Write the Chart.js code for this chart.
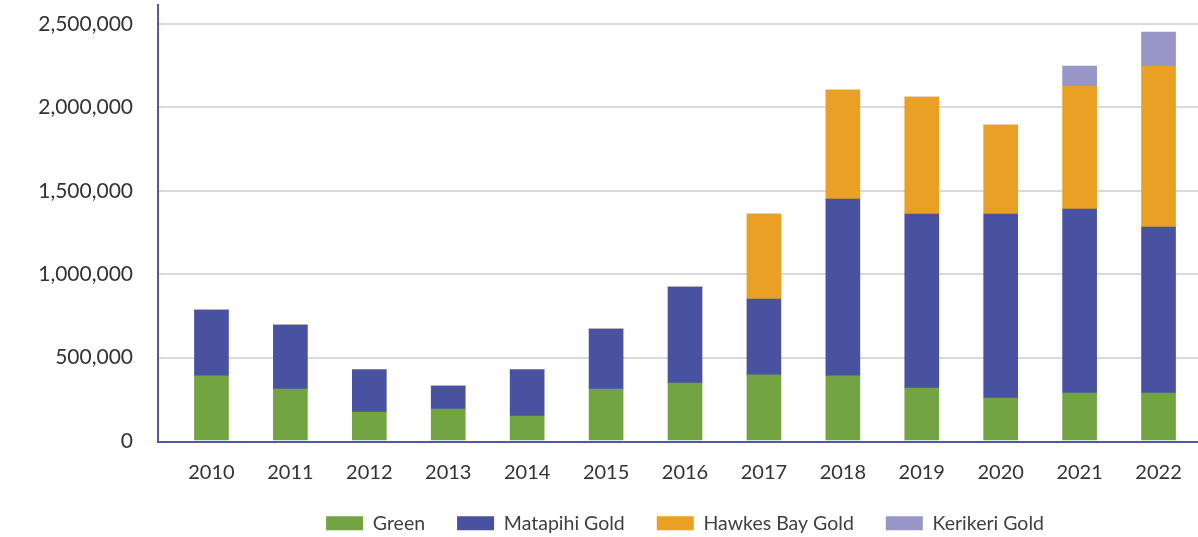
<!DOCTYPE html>
<html><head><meta charset="utf-8">
<script src="https://cdn.jsdelivr.net/npm/chart.js@4.4.1/dist/chart.umd.min.js"></script>
<style>html,body{margin:0;padding:0;background:#fff;} #wrap{width:1198px;height:537px;position:relative;}</style>
</head><body><div id="wrap"><canvas id="c"></canvas></div>
<script>
const years = ['2010','2011','2012','2013','2014','2015','2016','2017','2018','2019','2020','2021','2022'];
const green     = [390000, 312000, 174000, 192000, 150000, 312000, 348000, 396000, 390000, 318000, 258000, 288000, 288000];
const matapihi  = [395000, 383000, 252000, 138000, 276000, 359000, 575000, 455000, 1061000, 1043000, 1103000, 1103000, 995000];
const hawkesBay = [0, 0, 0, 0, 0, 0, 0, 510000, 653000, 701000, 533000, 737000, 965000];
const kerikeri  = [0, 0, 0, 0, 0, 0, 0, 0, 0, 0, 0, 120000, 204000];
const seriesNames = ['Green', 'Matapihi Gold', 'Hawkes Bay Gold', 'Kerikeri Gold'];
const yTickValues = [0, 500000, 1000000, 1500000, 2000000, 2500000];

const AXIS_X = 158;
const axisPlugin = {
  id: 'axisLines',
  beforeDatasetsDraw(chart) {
    const {ctx, chartArea, scales: {y}} = chart;
    ctx.save();
    ctx.strokeStyle = '#dadada';
    ctx.lineWidth = 2;
    y.ticks.forEach(t => {
      if (t.value === 0) return;
      const py = Math.round(y.getPixelForValue(t.value));
      ctx.beginPath(); ctx.moveTo(AXIS_X, py); ctx.lineTo(chartArea.left, py); ctx.stroke();
    });
    ctx.restore();
  },
  afterDatasetsDraw(chart) {
    const {ctx, chartArea} = chart;
    ctx.save();
    ctx.strokeStyle = '#5159ab';
    ctx.lineWidth = 2;
    ctx.beginPath();
    ctx.moveTo(AXIS_X, chartArea.top);
    ctx.lineTo(AXIS_X, chartArea.bottom + 1);
    ctx.lineTo(chartArea.right, chartArea.bottom + 1);
    ctx.stroke();
    ctx.restore();
  }
};

new Chart(document.getElementById('c'), {
  type: 'bar',
  data: {
    labels: years,
    datasets: [
      {label: seriesNames[0], data: green,     backgroundColor: '#72a442'},
      {label: seriesNames[1], data: matapihi,  backgroundColor: '#4951a1'},
      {label: seriesNames[2], data: hawkesBay, backgroundColor: '#e9a024'},
      {label: seriesNames[3], data: kerikeri,  backgroundColor: '#9895c7'}
    ]
  },
  options: {
    responsive: true,
    maintainAspectRatio: false,
    animation: false,
    layout: {padding: {top: 4, left: 0, right: 0, bottom: -6}},
    datasets: {bar: {barThickness: 34, borderWidth: 0}},
    plugins: {
      tooltip: {enabled: false},
      legend: {
        position: 'bottom',
        fullSize: false,
        labels: {
          boxWidth: 37, boxHeight: 14, padding: 32,
          color: '#404040',
          font: {family: 'Lato', size: 19.5}
        }
      }
    },
    scales: {
      x: {
        stacked: true,
        grid: {display: false, drawTicks: false},
        border: {display: false},
        ticks: {color: '#333', font: {family: 'Lato', size: 20}, padding: 20, maxRotation: 0, autoSkip: false},
        afterFit(s) { s.height = 40.5; s.paddingLeft = 0; s.paddingRight = 0; }
      },
      y: {
        stacked: true,
        min: 0, max: 2620000,
        grid: {color: c => (c.tick && c.tick.value === 0) ? 'rgba(0,0,0,0)' : '#dadada', lineWidth: 2, drawTicks: false},
        border: {display: false},
        afterBuildTicks(s) { s.ticks = yTickValues.map(v => ({value: v})); },
        ticks: {
          includeBounds: false,
          color: '#333', font: {family: 'Lato', size: 21}, padding: 39,
          callback: v => v.toLocaleString('en-US')
        },
        afterFit(s) { s.width = 172; s.paddingTop = 0; s.paddingBottom = 0; }
      }
    }
  },
  plugins: [axisPlugin]
});
</script></body></html>
